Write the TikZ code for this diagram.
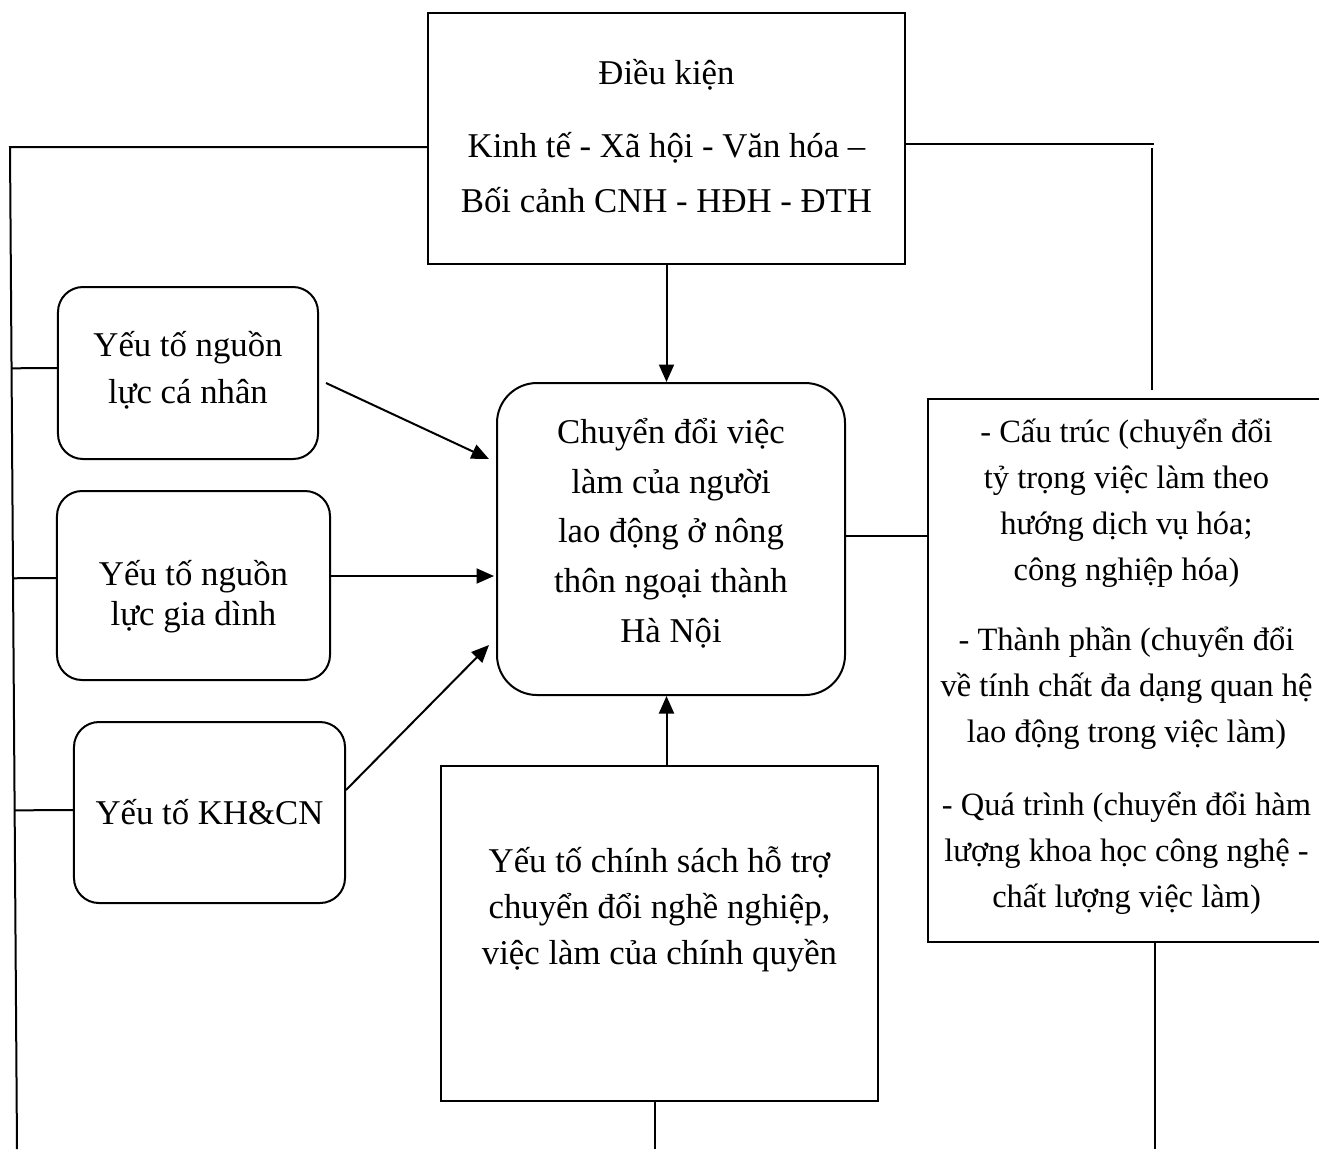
\documentclass[tikz,border=0pt]{standalone}
\usepackage{fontspec}
\setmainfont{Liberation Serif}
\usetikzlibrary{arrows.meta,positioning,calc}
\tikzset{
  % Square box
  sbox/.style={rectangle,draw=black,line width=0.8pt,
    align=center,inner sep=0pt},
  % Rounded box
  rbox/.style={rectangle,rounded corners=10pt,draw=black,
    line width=0.8pt,align=center,inner sep=0pt},
  % Arrows and plain lines
  arr/.style={-{Triangle[length=7pt,width=6pt]},line width=0.8pt},
  ln/.style={line width=0.8pt},
}
\newcommand{\txt}[1]{\fontsize{13.9}{#1}\selectfont}
\newcommand{\txtsm}[1]{\fontsize{13}{#1}\selectfont}

\begin{document}
\begin{tikzpicture}[x=0.4pt,y=-0.4pt]
  \useasboundingbox (0,0) rectangle (1319,1149);
  \clip (0,0) rectangle (1319,1149);

  % Boxes
  \node[sbox,minimum width=190.8pt,minimum height=100.4pt,font=\txt{22pt}]
    (dk) at (666.5,138.5)
    {Điều kiện\\[7.2pt]Kinh tế - Xã hội - Văn hóa –\\Bối cảnh CNH - HĐH - ĐTH\\[-20pt]\mbox{}};
  \node[rbox,rounded corners=16pt,minimum width=139.2pt,minimum height=124.8pt,
    font=\txt{19.9pt}] (cd) at (671,539)
    {Chuyển đổi việc\\làm của người\\lao động ở nông\\thôn ngoại thành\\Hà Nội\\[-13pt]\mbox{}};
  \node[rbox,minimum width=104pt,minimum height=68.8pt,font=\txt{18.8pt}]
    (cn) at (188,373) {Yếu tố nguồn\\lực cá nhân\\[-14.4pt]\mbox{}};
  \node[rbox,minimum width=109.2pt,minimum height=75.6pt,font=\txt{16pt}]
    (gd) at (193.5,585.5) {\rule{0pt}{19pt}Yếu tố nguồn\\lực gia dình};
  \node[rbox,minimum width=108.4pt,minimum height=72.4pt,font=\txt{18pt}]
    (kh) at (209.5,812.5) {Yếu tố KH\&CN};
  \node[sbox,minimum width=174.8pt,minimum height=134pt,font=\txt{18.4pt}]
    (cs) at (659.5,933.5)
    {Yếu tố chính sách hỗ trợ\\chuyển đổi nghề nghiệp,\\việc làm của chính quyền\\[3.6pt]\mbox{}};
  \node[sbox,minimum width=158.8pt,minimum height=217.2pt,font=\txtsm{18.4pt}]
    (ct) at (1126.5,670.5)
    {- Cấu trúc (chuyển đổi\\tỷ trọng việc làm theo\\hướng dịch vụ hóa;\\công nghiệp hóa)\\[9.6pt]
     - Thành phần (chuyển đổi\\về tính chất đa dạng quan hệ\\lao động trong việc làm)\\[10.8pt]
     - Quá trình (chuyển đổi hàm\\lượng khoa học công nghệ -\\chất lượng việc làm)\\[-12.8pt]\mbox{}};

  % Frame lines
  \coordinate (lt) at (10,147);
  \coordinate (lb) at (17,1149);
  \coordinate (tr) at (1154,144);
  \coordinate (trb) at (1152,390);
  \coordinate (rb) at (1155,1149);
  \coordinate (bb) at (655,1149);
  \coordinate (cnw) at ([yshift=2pt]cn.west);
  \coordinate (gdw) at ([yshift=3pt]gd.west);
  \coordinate (khw) at ([yshift=1pt]kh.west);

  \draw[ln] (dk.west |- lt) -- (lt) -- (lb);
  \draw[ln] ($(lt)!(cnw)!(lb)$) -- (cnw);
  \draw[ln] ($(lt)!(gdw)!(lb)$) -- (gdw);
  \draw[ln] ($(lt)!(khw)!(lb)$) -- (khw);
  \draw[ln] (dk.east |- tr) -- (tr);
  \draw[ln] (trb |- tr) ++(0,4) -- (trb);
  \draw[ln] (rb |- ct.south) -- (rb);
  \draw[ln] (bb |- cs.south) -- (bb);

  % Arrows
  \draw[arr] (dk.south) -- (dk.south |- cd.north);
  \draw[arr] ([xshift=2.8pt,yshift=-4pt]cn.east) -- ($(cd.west)+(-2.8pt,32pt)$);
  \draw[arr] ([yshift=3.8pt]gd.east) -- ([xshift=-0.8pt,yshift=3.8pt]gd.east -| cd.west);
  \draw[arr] ([yshift=9pt]kh.east) -- ($(cd.west)+(-2.8pt,-42.4pt)$);
  \draw[arr] (dk.south |- cs.north) -- (dk.south |- cd.south);
  \draw[ln] ([yshift=1.2pt]cd.east) -- ([yshift=1.2pt]cd.east -| ct.west);
\end{tikzpicture}
\end{document}
